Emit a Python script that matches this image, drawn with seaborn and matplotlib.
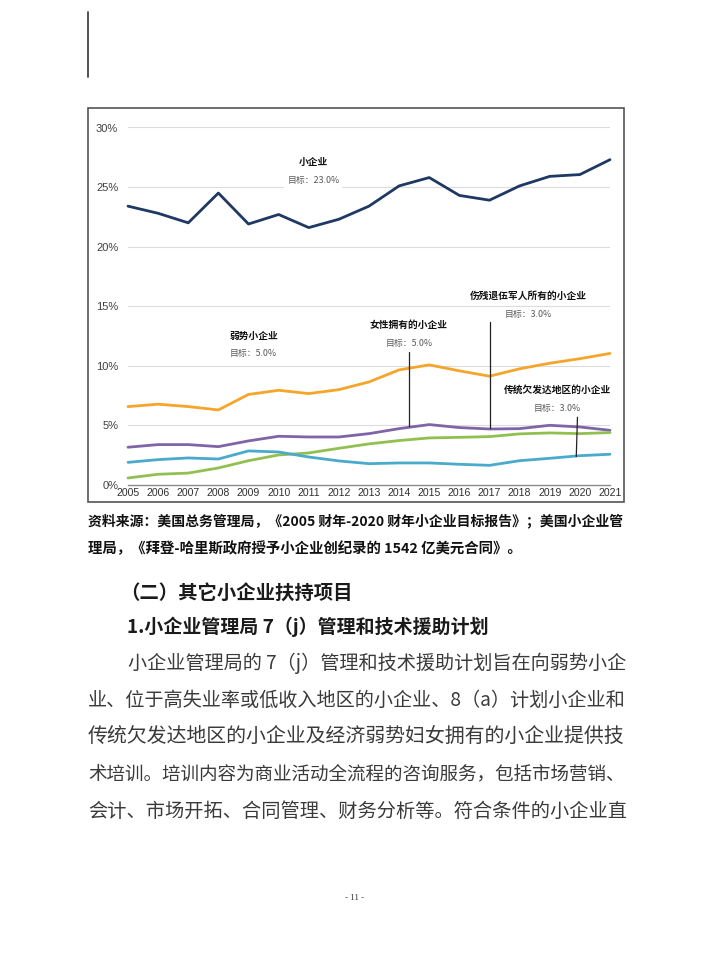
import matplotlib
matplotlib.use("Agg")
import matplotlib.pyplot as plt
import seaborn as sns
import pandas as pd
from matplotlib.lines import Line2D
from matplotlib.patches import Rectangle

sns.set_theme(style="white")
plt.rcParams['font.family'] = ['Noto Sans CJK SC', 'DejaVu Sans']

# ---------------- data ----------------
years = list(range(2005, 2022))
small_biz = [23.4, 22.8, 22.0, 24.5, 21.9, 22.7, 21.6, 22.3, 23.4, 25.1, 25.8, 24.3, 23.9, 25.1, 25.9, 26.05, 27.3]
disadvantaged = [6.58, 6.78, 6.58, 6.3, 7.6, 7.95, 7.67, 8.0, 8.65, 9.66, 10.08, 9.58, 9.13, 9.75, 10.22, 10.6, 11.04]
women_owned = [3.17, 3.39, 3.39, 3.22, 3.7, 4.09, 4.03, 4.03, 4.31, 4.73, 5.07, 4.82, 4.7, 4.73, 5.01, 4.87, 4.59]
veteran = [0.59, 0.9, 1.0, 1.43, 2.04, 2.52, 2.69, 3.08, 3.45, 3.73, 3.95, 4.0, 4.06, 4.29, 4.37, 4.31, 4.4]
hubzone = [1.9, 2.13, 2.27, 2.18, 2.86, 2.77, 2.35, 2.02, 1.79, 1.85, 1.85, 1.74, 1.65, 2.04, 2.24, 2.46, 2.58]

series_names = ["小企业", "弱势小企业", "女性拥有的小企业", "伤残退伍军人所有的小企业", "传统欠发达地区的小企业"]
series_values = [small_biz, disadvantaged, women_owned, veteran, hubzone]
series_goals = ["目标：23.0%", "目标：5.0%", "目标：5.0%", "目标：3.0%", "目标：3.0%"]
y_ticks = [0, 5, 10, 15, 20, 25, 30]
y_tick_labels = ["0%", "5%", "10%", "15%", "20%", "25%", "30%"]

caption_lines = ["资料来源：美国总务管理局，《2005 财年-2020 财年小企业目标报告》；美国小企业管",
                 "理局，《拜登-哈里斯政府授予小企业创纪录的 1542 亿美元合同》。"]
heading1 = "（二）其它小企业扶持项目"
heading2 = "1.小企业管理局 7（j）管理和技术援助计划"
body_lines = ["小企业管理局的 7（j）管理和技术援助计划旨在向弱势小企",
              "业、位于高失业率或低收入地区的小企业、8（a）计划小企业和",
              "传统欠发达地区的小企业及经济弱势妇女拥有的小企业提供技",
              "术培训。培训内容为商业活动全流程的咨询服务，包括市场营销、",
              "会计、市场开拓、合同管理、财务分析等。符合条件的小企业直"]
page_number = "- 11 -"

colors = ["#1f3864", "#f5a52a", "#8064a8", "#92c050", "#4aaacb"]

# ---------------- figure ----------------
W, H = 710, 963
fig = plt.figure(figsize=(W / 100, H / 100), dpi=100)
fig.patch.set_facecolor("white")


def fx(px):
    return px / W


def fy(py):
    return 1 - py / H


# left margin bar
fig.add_artist(Line2D([fx(88), fx(88)], [fy(12), fy(77)], color="#444444", lw=1.3))
# chart frame
fig.add_artist(Rectangle((fx(88), fy(502)), fx(624) - fx(88), fy(108) - fy(502),
                         fill=False, edgecolor="#555555", lw=1.2))

ax = fig.add_axes([fx(128), fy(485), fx(610) - fx(128), fy(127.5) - fy(485)])
ax.set_facecolor("none")

rows = []
for name, vals in zip(series_names, series_values):
    for yr, v in zip(years, vals):
        rows.append({"year": yr, "value": v, "series": name})
df = pd.DataFrame(rows)

sns.lineplot(data=df, x="year", y="value", hue="series", hue_order=series_names,
             palette=colors, linewidth=2.0, legend=False, ax=ax, zorder=3)
for ln in ax.get_lines():
    ln.set_clip_on(False)

ax.set_xlim(2005, 2021)
ax.set_ylim(0, 30)
ax.set_yticks(y_ticks)
ax.set_yticklabels(y_tick_labels, family=["Liberation Sans", "DejaVu Sans"], fontsize=8, color="#404040")
ax.set_xticks(years)
ax.set_xticklabels([str(y) for y in years], family=["Liberation Sans", "DejaVu Sans"], fontsize=7.6, color="#303030")
ax.set_xticks([2005, 2009, 2013, 2017, 2021], minor=True)
ax.tick_params(axis="x", which="major", length=0, pad=2)
ax.tick_params(axis="x", which="minor", length=6, direction="in", color="#808080", width=0.8)
ax.tick_params(axis="y", length=0, pad=7)
for s in ["top", "right", "left"]:
    ax.spines[s].set_visible(False)
ax.spines["bottom"].set_color("#8a8a8a")
ax.spines["bottom"].set_linewidth(1.0)
ax.set_xlabel("")
ax.set_ylabel("")
for yv in y_ticks[1:]:
    ax.axhline(yv, color="#dcdcdc", lw=0.8, zorder=0)

# annotations
title_pos = [(2011.15, 27.13), (2009.17, 12.55), (2014.33, 13.45), (2018.3, 15.9), (2019.25, 7.98)]
goal_pos = [(2011.15, 25.54), (2009.17, 11.0), (2014.33, 11.85), (2018.3, 14.34), (2019.25, 6.44)]
for name, gl, tp, gp in zip(series_names, series_goals, title_pos, goal_pos):
    ax.text(tp[0], tp[1], name, ha="center", va="center", fontsize=7, fontweight="bold",
            color="#111111", zorder=5,
            bbox=dict(boxstyle="square,pad=0.25", fc="white", ec="none"))
    ax.text(gp[0], gp[1], gl, ha="center", va="center", fontsize=6.4,
            color="#595959", zorder=5,
            bbox=dict(boxstyle="square,pad=0.3", fc="white", ec="none"))

leaders = [((2014.33, 11.2), (2014.33, 4.95)),
           ((2017.0, 13.7), (2017.0, 4.8)),
           ((2019.92, 5.69), (2019.88, 2.38))]
for (x0, y0), (x1, y1) in leaders:
    ax.plot([x0, x1], [y0, y1], color="#222222", lw=0.9, zorder=4)

# ---------------- page text ----------------
fig.canvas.draw()
renderer = fig.canvas.get_renderer()


def fit_text(x0, x1, y, s, base=12, **kw):
    t = fig.text(fx(x0), fy(y), s, ha="left", va="center", fontsize=base, **kw)
    w = t.get_window_extent(renderer).width
    t.set_fontsize(base * (x1 - x0) / w)
    return t


fit_text(88, 621, 521, caption_lines[0], fontweight="bold", color="#111111")
fit_text(88, 522, 549, caption_lines[1], fontweight="bold", color="#111111")
fit_text(120, 352, 593, heading1, fontweight="bold", color="#1a1a1a")
fit_text(127, 487, 627, heading2, fontweight="bold", color="#1a1a1a")

body_y = [663, 700, 737, 774, 811]
for i, (line, yy) in enumerate(zip(body_lines, body_y)):
    x0 = 128 if i == 0 else 88
    fit_text(x0, 625, yy, line, color="#3a3a3a")

fig.text(fx(355), fy(898), page_number, ha="center", va="center", fontsize=6.5,
         family=["Liberation Serif", "DejaVu Serif"], color="#333333")

fig.savefig("out.png", dpi=100, facecolor="white")
